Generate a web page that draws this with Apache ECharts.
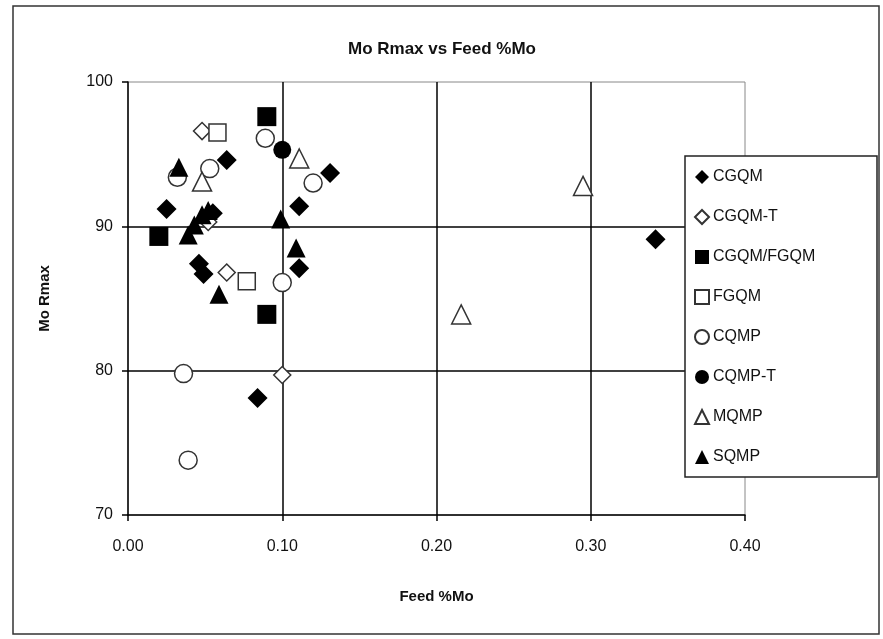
<!DOCTYPE html>
<html>
<head>
<meta charset="utf-8">
<script src="https://cdn.jsdelivr.net/npm/echarts@6/dist/echarts.min.js"></script>
<style>
html,body{margin:0;padding:0;background:#fff;}
#chart{width:883px;height:639px;}
</style>
</head>
<body>
<div id="chart"></div>
<script>
const seriesNames = ['CGQM','CGQM-T','CGQM/FGQM','FGQM','CQMP','CQMP-T','MQMP','SQMP'];
const xTicks = [0, 0.1, 0.2, 0.3, 0.4];
const yTicks = [70, 80, 90, 100];

const CGQM = [[0.025,91.2],[0.046,87.4],[0.049,86.7],[0.055,90.9],[0.064,94.6],[0.084,78.1],[0.111,91.4],[0.111,87.1],[0.131,93.7],[0.342,89.1]];
const CGQM_T = [[0.048,96.6],[0.052,90.3],[0.064,86.8],[0.100,79.7]];
const CGQM_FGQM = [[0.020,89.3],[0.090,97.6],[0.090,83.9]];
const FGQM = [[0.058,96.5],[0.077,86.2]];
const CQMP = [[0.032,93.4],[0.053,94.0],[0.089,96.1],[0.100,86.1],[0.120,93.0],[0.036,79.8],[0.039,73.8]];
const CQMP_T = [[0.100,95.3]];
const MQMP = [[0.048,93.1],[0.111,94.7],[0.216,83.9],[0.295,92.8]];
const SQMP = [[0.033,94.1],[0.039,89.4],[0.043,90.1],[0.048,90.8],[0.052,91.1],[0.059,85.3],[0.099,90.5],[0.109,88.5]];

const dataSets = [CGQM, CGQM_T, CGQM_FGQM, FGQM, CQMP, CQMP_T, MQMP, SQMP];
const symbols = ['diamond','diamond','rect','rect','circle','circle','triangle','triangle'];
const filled = [true,false,true,false,false,true,false,true];
const sizes = [20,17,19,17,18,18,19,19];

const FONT = '"Liberation Sans", Arial, sans-serif';

const series = dataSets.map((d, i) => ({
  name: seriesNames[i],
  type: 'scatter',
  data: d,
  symbol: symbols[i],
  symbolSize: sizes[i],
  itemStyle: filled[i]
    ? { color: '#000', borderColor: '#000', borderWidth: 0, opacity: 1 }
    : { color: '#fff', borderColor: '#333', borderWidth: 1.5, opacity: 1 },
  emphasis: { disabled: true },
  z: 3
}));

const chart = echarts.init(document.getElementById('chart'));
chart.setOption({
  animation: false,
  backgroundColor: '#fff',
  title: {
    text: 'Mo Rmax vs Feed %Mo',
    left: 437,
    textAlign: 'center',
    top: 36,
    textStyle: { fontFamily: FONT, fontSize: 17, fontWeight: 'bold', color: '#111' }
  },
  grid: {
    left: 128, right: 138, top: 82, bottom: 124,
    show: true, borderColor: '#888', borderWidth: 1, backgroundColor: 'transparent'
  },
  xAxis: {
    type: 'value', min: 0, max: 0.4, interval: 0.1,
    name: 'Feed %Mo', nameLocation: 'middle', nameGap: 74,
    nameTextStyle: { fontFamily: FONT, fontSize: 15, fontWeight: 'bold', color: '#111' },
    axisLine: { show: true, lineStyle: { color: '#000', width: 1.5 } },
    axisTick: { show: true, inside: false, length: 6, lineStyle: { color: '#000', width: 1.5 } },
    axisLabel: { fontFamily: FONT, fontSize: 16, color: '#111', margin: 24,
      formatter: v => v.toFixed(2) },
    splitLine: { show: true, showMinLine: false, showMaxLine: false, lineStyle: { color: '#000', width: 1.5 } }
  },
  yAxis: {
    type: 'value', min: 70, max: 100, interval: 10,
    name: 'Mo Rmax', nameLocation: 'middle', nameGap: 76, nameRotate: 90,
    nameTextStyle: { fontFamily: FONT, fontSize: 15, fontWeight: 'bold', color: '#111' },
    axisLine: { show: true, lineStyle: { color: '#000', width: 1.5 } },
    axisTick: { show: true, inside: false, length: 6, lineStyle: { color: '#000', width: 1.5 } },
    axisLabel: { fontFamily: FONT, fontSize: 16, color: '#111', margin: 15 },
    splitLine: { show: true, showMinLine: false, showMaxLine: false, lineStyle: { color: '#000', width: 1.5 } }
  },
  legend: {
    orient: 'vertical',
    z: 10,
    left: 689, top: 164,
    itemWidth: 14, itemHeight: 14,
    itemGap: 24,
    selectedMode: false,
    textStyle: { fontFamily: FONT, fontSize: 16, color: '#111', lineHeight: 16, padding: [0,0,0,-1] },
    data: seriesNames.map(n => ({ name: n }))
  },
  graphic: [
    { type: 'rect', shape: { x: 13, y: 6, width: 866, height: 628 }, style: { fill: 'none', stroke: '#333', lineWidth: 1.5 }, z: 0, silent: true },
    { type: 'rect', shape: { x: 685, y: 156, width: 192, height: 321 }, style: { fill: '#fff', stroke: '#222', lineWidth: 1.5 }, z: 5, silent: true }
  ],
  series: series
});
</script>
</body>
</html>
